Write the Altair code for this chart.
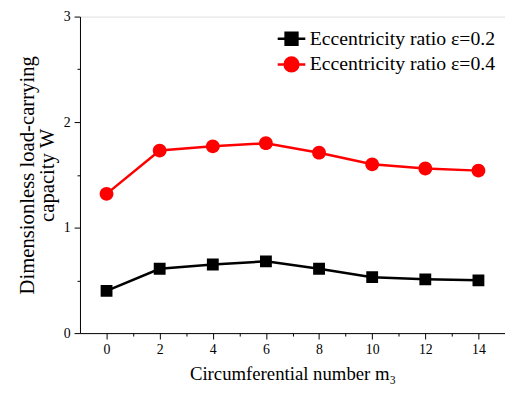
import altair as alt
import pandas as pd

m3 = [0, 2, 4, 6, 8, 10, 12, 14]
w_e02 = [0.40, 0.61, 0.65, 0.68, 0.61, 0.53, 0.51, 0.50]
w_e04 = [1.32, 1.73, 1.77, 1.80, 1.71, 1.60, 1.56, 1.54]
series = ["Eccentricity ratio ε=0.2", "Eccentricity ratio ε=0.4"]
colors = ["#000000", "#ff0000"]
x_major = [0, 2, 4, 6, 8, 10, 12, 14]
x_minor = [1, 3, 5, 7, 9, 11, 13]
y_major = [0, 1, 2, 3]
y_minor = [0.5, 1.5, 2.5]

rows = []
for s, vals in zip(series, [w_e02, w_e04]):
    for xv, yv in zip(m3, vals):
        rows.append({"m": xv, "W": yv, "s": s})
df = pd.DataFrame(rows)

FONT = "Liberation Serif"
sq = "M-1.4,0H1.4M-0.6,-0.6H0.6V0.6H-0.6Z"
ci = "M-1.4,0H1.4M0.7,0A0.7,0.7 0 1,1 -0.7,0A0.7,0.7 0 1,1 0.7,0Z"

xscale = alt.Scale(domain=[-1, 15], nice=False, zero=False)
yscale = alt.Scale(domain=[0, 3], nice=False)


def leg():
    return alt.Legend(title=None, orient="none", legendX=203, legendY=11,
                      labelFontSize=20, labelFont=FONT, labelColor="#000",
                      labelLimit=0,
                      symbolStrokeWidth=2.5, labelOffset=7, rowPadding=2,
                      symbolOpacity=1, padding=0, symbolSize=400)


cscale = alt.Scale(domain=series, range=colors)
base = alt.Chart(df)

line = base.mark_line(strokeWidth=2.5).encode(
    x=alt.X("m:Q", scale=xscale,
            axis=alt.Axis(values=x_minor, labels=False, domain=False, tickSize=3,
                          title=None, grid=False, orient="bottom", tickColor="#000")),
    y=alt.Y("W:Q", scale=yscale,
            axis=alt.Axis(values=y_minor, labels=False, domain=False, tickSize=3,
                          title=None, grid=False, orient="left", tickColor="#000")),
    color=alt.Color("s:N", scale=cscale, legend=leg()),
)

pts = base.mark_point(filled=True, size=400, opacity=1, strokeWidth=0).encode(
    x=alt.X("m:Q", scale=xscale,
            axis=alt.Axis(values=x_major, tickSize=6, grid=False, orient="bottom",
                          title="Circumferential number m₃", labelFontSize=14,
                          titleFontSize=19, labelPadding=4, titlePadding=8,
                          labelFont=FONT, titleFont=FONT,
                          domainColor="#000", tickColor="#000", labelColor="#000",
                          titleColor="#000", titleFontWeight="normal")),
    y=alt.Y("W:Q", scale=yscale,
            axis=alt.Axis(values=y_major, tickSize=6, grid=False, orient="left",
                          title=["Dimensionless load-carrying", "capacity W"],
                          labelFontSize=14, titleFontSize=21, labelPadding=4,
                          labelFont=FONT, titleFont=FONT, titleLineHeight=20,
                          titlePadding=6, domainColor="#000", tickColor="#000",
                          labelColor="#000", titleColor="#000",
                          titleFontWeight="normal")),
    color=alt.Color("s:N", scale=cscale, legend=leg()),
    shape=alt.Shape("s:N", scale=alt.Scale(domain=series, range=[sq, ci]), legend=leg()),
    stroke=alt.Stroke("s:N", scale=cscale, legend=leg()),
)

chart = alt.layer(line, pts).resolve_axis(x="independent", y="independent").properties(
    width=431, height=321,
    autosize=alt.AutoSizeParams(type="none"),
    padding={"left": 73, "top": 6, "right": 0, "bottom": 55},
).configure_view(stroke=None).configure(font=FONT).configure_axis(
    labelFont=FONT, titleFont=FONT
).configure_legend(labelFont=FONT, titleFont=FONT)

chart.save("out.html", embed_options={"renderer": "svg", "actions": False})
